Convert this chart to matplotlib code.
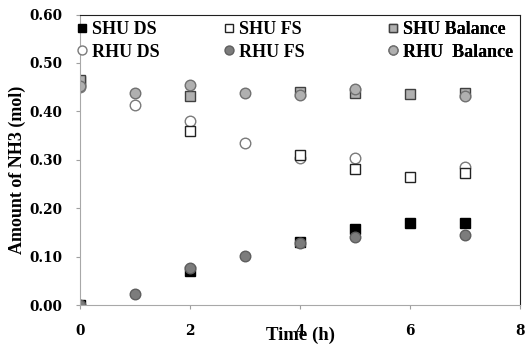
import matplotlib.pyplot as plt
import numpy as np

plt.rcParams['font.family'] = ['Liberation Serif', 'DejaVu Serif']
plt.rcParams['font.weight'] = 'bold'

# NH3 amounts (mol) versus time (h)
t_shu = [0, 2, 4, 5, 6, 7]
shu_ds = [0.000, 0.070, 0.130, 0.158, 0.170, 0.170]
shu_fs = [0.462, 0.360, 0.310, 0.281, 0.265, 0.273]
shu_bal = [0.465, 0.432, 0.441, 0.437, 0.436, 0.437]

t_rhu = [0, 1, 2, 3, 4, 5, 7]
rhu_ds = [0.450, 0.414, 0.380, 0.335, 0.303, 0.304, 0.286]
rhu_fs = [0.000, 0.023, 0.077, 0.101, 0.129, 0.141, 0.145]
rhu_bal = [0.452, 0.437, 0.455, 0.437, 0.434, 0.446, 0.432]

x_ticks = [0, 2, 4, 6, 8]
y_ticks = [0.0, 0.1, 0.2, 0.3, 0.4, 0.5, 0.6]

fig = plt.figure(figsize=(5.26, 3.47), dpi=100)
ax = fig.add_axes([0.152, 0.121, 0.837, 0.837])

ms = 7.6
bal_fc = '#b0b0b0'

h1, = ax.plot(t_shu, shu_ds, 's', ms=ms, mfc='black', mec='black', label='SHU DS')
h2, = ax.plot(t_rhu, rhu_ds, 'o', ms=ms, mfc='white', mec='#7a7a7a', mew=1, label='RHU DS')
h3, = ax.plot(t_shu, shu_fs, 's', ms=ms, mfc='white', mec='#222222', mew=1, label='SHU FS')
h4, = ax.plot(t_rhu, rhu_fs, 'o', ms=ms, mfc='#7c7c7c', mec='#5e5e5e', mew=1, label='RHU FS')
h5, = ax.plot(t_shu, shu_bal, 's', ms=ms, mfc=bal_fc, mec='#404040', mew=1, label='SHU Balance')
h6, = ax.plot(t_rhu, rhu_bal, 'o', ms=ms, mfc=bal_fc, mec='#707070', mew=1, label='RHU  Balance')

ax.set_xlim(0, 8)
ax.set_ylim(0, 0.6)
ax.set_xticks(x_ticks)
ax.set_yticks(y_ticks)
ax.set_yticklabels([f'{v:.2f}' for v in y_ticks])
tick_font = {'family': 'DejaVu Serif', 'weight': 'bold', 'size': 9.8}
for lbl in ax.get_xticklabels() + ax.get_yticklabels():
    lbl.set_fontproperties(tick_font)
ax.tick_params(direction='out', length=3, color='#a0a0a0')
ax.tick_params(axis='y', pad=10)
ax.tick_params(axis='x', pad=11)

for s in ['left', 'bottom']:
    ax.spines[s].set_color('#a8a8a8')
for s in ['top', 'right']:
    ax.spines[s].set_color('#202020')

ax.set_xlabel('Time (h)', fontsize=13.5, fontweight='bold')
ax.xaxis.set_label_coords(0.5, -0.075)
ax.set_ylabel('Amount of NH3 (mol)', fontsize=13, fontweight='bold')
ax.yaxis.set_label_coords(-0.122, 0.465)

# three legend columns, two rows each
groups = [([h1, h2], -0.0077), ([h3, h4], 0.326), ([h5, h6], 0.699)]
for handles, x0 in groups:
    leg = ax.legend(handles=handles, loc='upper left', bbox_to_anchor=(x0, 0.978),
                    frameon=False, fontsize=13, borderpad=0, borderaxespad=0,
                    handlelength=0.6, handletextpad=0.25, labelspacing=0.32,
                    markerscale=0.85)
    ax.add_artist(leg)

fig.savefig('out.png', dpi=100)
